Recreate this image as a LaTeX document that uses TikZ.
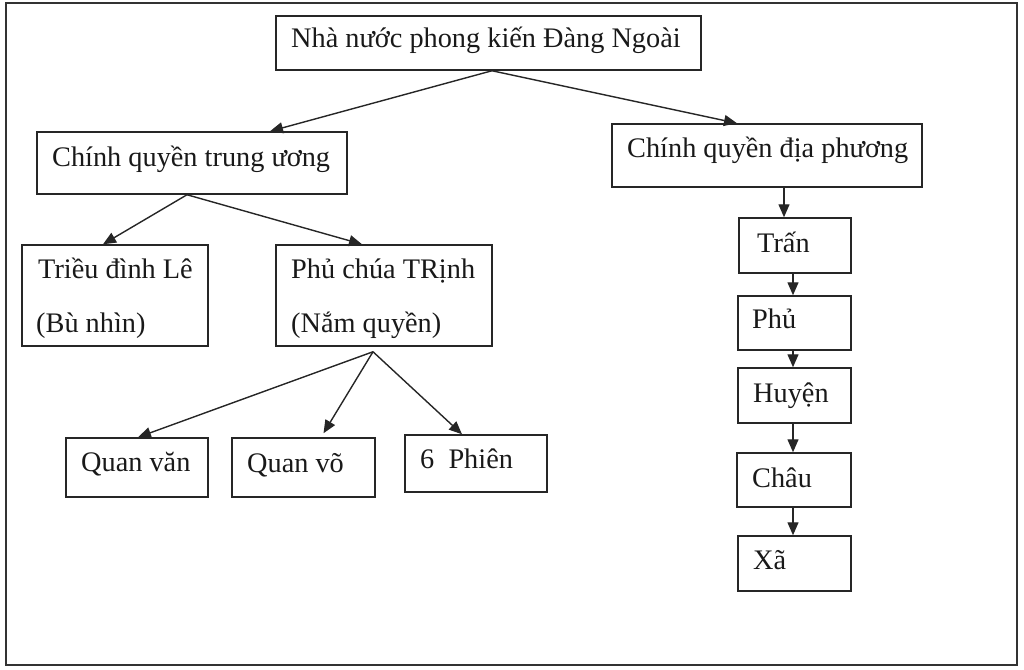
\documentclass[tikz,border=0pt]{standalone}
\usepackage{fontspec}
\setmainfont{Liberation Serif}
\usetikzlibrary{arrows.meta}
\tikzset{
  box/.style={draw=black!85, line width=1.5pt, rectangle, inner sep=0pt},
  lbl/.style={anchor=base west, inner sep=0pt, font=\fontsize{28.3}{34}\selectfont, text=black!90},
  conn/.style={draw=black!85, line width=1.4pt, -{Triangle[length=13pt,width=11pt]}}
}
\begin{document}
\begin{tikzpicture}[x=1pt,y=-1pt]
\useasboundingbox (0,0) rectangle (1024,669);
\draw[line width=2pt, black!80] (6,3) rectangle (1017,665);
% boxes
\node[box, minimum width=425pt, minimum height=54pt] (top) at (488.5,43) {};
\node[box, minimum width=310pt, minimum height=62pt] (cqtu) at (192,163) {};
\node[box, minimum width=310pt, minimum height=63pt] (cqdp) at (767,155.5) {};
\node[box, minimum width=112pt, minimum height=55pt] (tran) at (795,245.5) {};
\node[box, minimum width=113pt, minimum height=54pt] (phu) at (794.5,323) {};
\node[box, minimum width=113pt, minimum height=55pt] (huyen) at (794.5,395.5) {};
\node[box, minimum width=114pt, minimum height=54pt] (chau) at (794,480) {};
\node[box, minimum width=113pt, minimum height=55pt] (xa) at (794.5,563.5) {};
\node[box, minimum width=186pt, minimum height=101pt] (trieu) at (115,295.5) {};
\node[box, minimum width=216pt, minimum height=101pt] (phuchua) at (384,295.5) {};
\node[box, minimum width=142pt, minimum height=59pt] (quanvan) at (137,467.5) {};
\node[box, minimum width=143pt, minimum height=59pt] (quanvo) at (303.5,467.5) {};
\node[box, minimum width=142pt, minimum height=57pt] (phien) at (476,463.5) {};
% texts
\node[lbl] (ttop) at (291,48) {Nhà nước phong kiến Đàng Ngoài};
\node[lbl] (tcqtu) at (52,166) {Chính quyền trung ương};
\node[lbl] (tcqdp) at (627,157) {Chính quyền địa phương};
\node[lbl] (ttran) at (757,252) {Trấn};
\node[lbl] (tphu) at (752,328) {Phủ};
\node[lbl] (thuyen) at (753,402) {Huyện};
\node[lbl] (tchau) at (752,487) {Châu};
\node[lbl] (txa) at (753,569) {Xã};
\node[lbl] (ttrieu1) at (38,278) {Triều đình Lê};
\node[lbl] (ttrieu2) at (36,332) {(Bù nhìn)};
\node[lbl] (tphuchua1) at (291,278) {Phủ chúa TRịnh};
\node[lbl] (tphuchua2) at (291,332) {(Nắm quyền)};
\node[lbl] (tquanvan) at (81,471) {Quan văn};
\node[lbl] (tquanvo) at (247,472) {Quan võ};
\node[lbl] (tphien) at (420,468) {6\ \ Phiên};
% connectors
\draw[conn] ([xshift=3.5pt]top.south) -- ([xshift=78pt]cqtu.north);
\draw[conn] ([xshift=3.5pt]top.south) -- ([xshift=-30pt]cqdp.north);
\draw[conn] ([xshift=-5pt]cqtu.south) -- ([xshift=-12pt]trieu.north);
\draw[conn] ([xshift=-5pt]cqtu.south) -- ([xshift=-22pt]phuchua.north);
\draw[conn] ([xshift=-11pt,yshift=-5pt]phuchua.south) -- ([xshift=1pt]quanvan.north);
\draw[conn] ([xshift=-11pt,yshift=-5pt]phuchua.south) -- ([xshift=20pt,yshift=4pt]quanvo.north);
\draw[conn] ([xshift=-11pt,yshift=-5pt]phuchua.south) -- ([xshift=-14pt]phien.north);
\draw[conn] ([xshift=17pt]cqdp.south) -- ([xshift=17pt]cqdp.south |- tran.north);
\draw[conn] ([xshift=-2pt]tran.south) -- ([xshift=-2pt]tran.south |- phu.north);
\draw[conn] ([xshift=-1.5pt]phu.south) -- ([xshift=-1.5pt]phu.south |- huyen.north);
\draw[conn] ([xshift=-1.5pt]huyen.south) -- ([xshift=-1.5pt]huyen.south |- chau.north);
\draw[conn] ([xshift=-1pt]chau.south) -- ([xshift=-1pt]chau.south |- xa.north);
\end{tikzpicture}
\end{document}
